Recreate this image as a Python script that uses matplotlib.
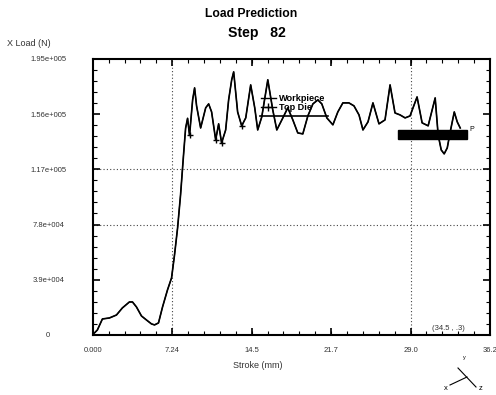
import numpy as np
import matplotlib
matplotlib.use("Agg")
import matplotlib.pyplot as plt
from matplotlib.ticker import FixedLocator, AutoMinorLocator
from matplotlib.lines import Line2D
from matplotlib.patches import Rectangle

plt.rcParams['font.family'] = ['Liberation Sans', 'DejaVu Sans']

# Stroke (mm) and predicted X load (N)
stroke = [0.15, 0.42, 0.88, 1.52, 2.16, 2.70, 3.34, 3.62, 3.98, 4.44,
          4.89, 5.35, 5.63, 5.99, 6.36, 6.81, 7.18, 7.45, 7.73, 8.00,
          8.27, 8.46, 8.64, 8.82, 9.10, 9.28, 9.46, 9.83, 10.29, 10.56,
          10.83, 11.20, 11.47, 11.74, 12.11, 12.38, 12.66, 12.84, 13.20, 13.57,
          13.94, 14.39, 14.76, 15.03, 15.40, 15.95, 16.40, 16.77, 17.32, 17.77,
          18.23, 18.68, 19.14, 19.60, 20.06, 20.51, 20.87, 21.33, 21.88, 22.33,
          22.79, 23.34, 23.80, 24.26, 24.62, 25.08, 25.53, 26.08, 26.63, 27.09,
          27.54, 28.00, 28.46, 28.91, 29.55, 30.01, 30.56, 31.20, 31.47, 31.75,
          32.02, 32.30, 32.57, 32.94, 33.21, 33.48]
load_workpiece = [1400, 3500, 11300, 12000, 14100, 19100, 23300, 23300, 19800, 13400,
                  10600, 7800, 7100, 8500, 19800, 31800, 40300, 56500, 75600, 98900,
                  127000, 146000, 153000, 141000, 166000, 174500, 161800, 146200, 160400, 163200,
                  157500, 137800, 149100, 135600, 144800, 166000, 180200, 185800, 157500, 147700,
                  153300, 176600, 160400, 144800, 154000, 180200, 159000, 144800, 153300, 160400,
                  151900, 142700, 142000, 154700, 163200, 166000, 163200, 153300, 148400, 157500,
                  163900, 163900, 161800, 155400, 144800, 150500, 163900, 149100, 151900, 176600,
                  156800, 155400, 153300, 154700, 168100, 149800, 147700, 167400, 141300, 130700,
                  127900, 132100, 143400, 157500, 150500, 146200]
load_top_die = load_workpiece
top_die_marks = [23, 31, 33, 39]

x_ticks = [0.0, 7.24, 14.5, 21.7, 29.0, 36.2]
x_labels = ['0.000', '7.24', '14.5', '21.7', '29.0', '36.2']
y_ticks = [0, 39000, 78000, 117000, 156000, 195000]
y_labels = ['0', '3.9e+004', '7.8e+004', '1.17e+005', '1.56e+005', '1.95e+005']
grid_x = [7.24, 29.0]
grid_y = [78000, 117000]

fig = plt.figure(figsize=(4.96, 3.95), dpi=100)
ax = fig.add_axes([0.187, 0.152, 0.801, 0.699])

ax.plot(stroke, load_workpiece, color='black', lw=1.2, zorder=3)
ax.plot(stroke, load_top_die, color='black', lw=0.8, marker='+', ms=4,
        markevery=top_die_marks, zorder=3)

for gx in grid_x:
    ax.axvline(gx, color='#444444', ls=(0, (1, 2)), lw=0.8, zorder=1)
for gy in grid_y:
    ax.axhline(gy, color='#444444', ls=(0, (1, 2)), lw=0.8, zorder=1)

ax.set_xlim(0, 36.2)
ax.set_ylim(0, 195000)
ax.xaxis.set_major_locator(FixedLocator(x_ticks))
ax.yaxis.set_major_locator(FixedLocator(y_ticks))
ax.set_xticklabels(x_labels)
ax.set_yticklabels(y_labels)
ax.xaxis.set_minor_locator(AutoMinorLocator(5))
ax.yaxis.set_minor_locator(AutoMinorLocator(5))
ax.tick_params(which='both', direction='in', top=True, right=True,
               colors='black', labelcolor='#333333', labelsize=5.5)
ax.tick_params(which='major', length=5, width=1.2)
ax.tick_params(which='minor', length=3, width=0.8)
ax.tick_params(axis='x', pad=9)
ax.tick_params(axis='y', pad=32)
for lab in ax.get_yticklabels():
    lab.set_horizontalalignment('center')
for s in ax.spines.values():
    s.set_linewidth(1.5)

ax.set_xlabel('Stroke (mm)', fontsize=6.5, color='#333333')
ax.xaxis.set_label_coords(0.416, -0.095)

fig.text(0.014, 0.891, 'X Load (N)', fontsize=6.5, color='#333333', va='center')
fig.text(0.506, 0.964, 'Load Prediction', fontsize=8.7, fontweight='bold', ha='center', va='center')
fig.text(0.518, 0.916, 'Step   82', fontsize=10.2, fontweight='bold', ha='center', va='center')

# legend with underline
handles = [Line2D([], [], color='black', lw=1.0),
           Line2D([], [], color='black', lw=1.0, marker='+', ms=6)]
ax.legend(handles, ['Workpiece', 'Top Die'], loc='center left',
          bbox_to_anchor=(0.41, 0.84), frameon=False, handlelength=1.6,
          handletextpad=0.4, labelspacing=0.05, borderpad=0.1,
          prop={'weight': 'bold', 'size': 6.6})
ax.plot([0.421, 0.592], [0.793, 0.793], color='black', lw=1.2,
        transform=ax.transAxes, zorder=4)

# cursor readout bar
ax.add_patch(Rectangle((0.768, 0.71), 0.174, 0.033, transform=ax.transAxes,
                       facecolor='black', edgecolor='black', zorder=5))
ax.text(0.955, 0.745, 'P', transform=ax.transAxes, fontsize=5, ha='center', va='center')
ax.text(0.895, 0.024, '(34.5 , .3)', transform=ax.transAxes, fontsize=5.5,
        color='#333333', ha='center', va='center')

# axis triad
fig.add_artist(Line2D([458 / 496, 476 / 496], [1 - 368 / 395, 1 - 387 / 395],
                      color='black', lw=0.8))
fig.add_artist(Line2D([467 / 496, 450 / 496], [1 - 377 / 395, 1 - 385 / 395],
                      color='black', lw=0.8))
fig.text(446 / 496, 1 - 388 / 395, 'x', fontsize=5.5, ha='center', va='center')
fig.text(481 / 496, 1 - 388 / 395, 'z', fontsize=5.5, ha='center', va='center')
fig.text(464 / 496, 1 - 357 / 395, 'y', fontsize=4, ha='center', va='center')

fig.savefig('out.png', dpi=100)
